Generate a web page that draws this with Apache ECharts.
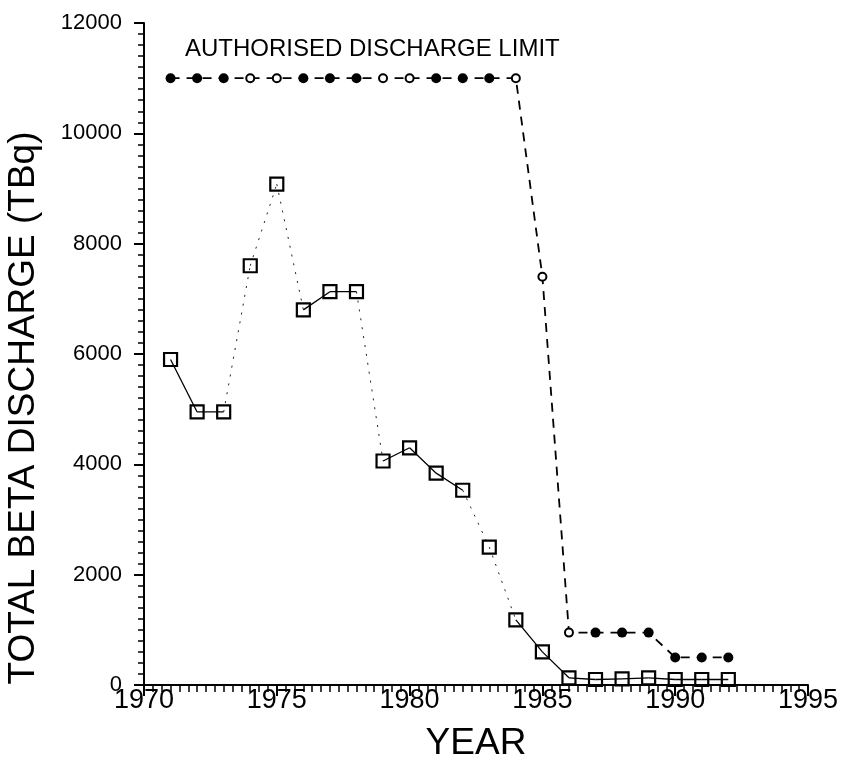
<!DOCTYPE html>
<html>
<head>
<meta charset="utf-8">
<script src="https://cdn.jsdelivr.net/npm/echarts@6/dist/echarts.min.js"></script>
<style>
html,body{margin:0;padding:0;background:#fff;}
#chart{width:841px;height:761px;}
</style>
</head>
<body>
<div id="chart"></div>
<script>
// ---- data ----
const years = [1971,1972,1973,1974,1975,1976,1977,1978,1979,1980,1981,1982,1983,1984,1985,1986,1987,1988,1989,1990,1991,1992];
const totalBeta = [5900,4950,4950,7600,9080,6800,7130,7130,4060,4300,3840,3530,2500,1180,600,130,100,110,130,100,100,100];
const dischargeLimit = [11000,11000,11000,11000,11000,11000,11000,11000,11000,11000,11000,11000,11000,11000,7400,950,950,950,950,500,500,500];
const limitLabel = 'AUTHORISED DISCHARGE LIMIT';
const xAxisTitle = 'YEAR';
const yAxisTitle = 'TOTAL BETA DISCHARGE (TBq)';

// ---- styles (not data) ----
const segmentStyle = ['solid','solid','dotted','dotted','dotted','solid','solid','dotted','solid','solid','solid','dotted','dotted','solid','solid','solid','solid','solid','solid','solid','solid'];
const openLimitYears = [1974,1975,1979,1980,1984,1985,1986];
const FONT = 'Liberation Sans, Arial, sans-serif';

const chart = echarts.init(document.getElementById('chart'), null, {renderer:'canvas'});

const series = [];
for (let i = 0; i < years.length - 1; i++) {
  const dotted = segmentStyle[i] === 'dotted';
  series.push({
    type:'line',
    data:[[years[i], totalBeta[i]], [years[i+1], totalBeta[i+1]]],
    showSymbol:false,
    symbol:'none',
    silent:true,
    z:2,
    lineStyle: dotted ? {color:'#222', width:1, type:[2,7]} : {color:'#000', width:1.3, type:'solid'}
  });
}
series.push({
  type:'line',
  data: years.map((y,i)=>[y,totalBeta[i]]),
  symbol:'rect',
  symbolSize:13,
  showAllSymbol:true,
  lineStyle:{width:0, opacity:0},
  itemStyle:{color:'rgba(0,0,0,0)', borderColor:'#000', borderWidth:2.2},
  z:3
});
series.push({
  type:'line',
  data: years.map((y,i)=>{
    const open = openLimitYears.indexOf(y) >= 0;
    return open
      ? {value:[y, dischargeLimit[i]], symbolSize:8, itemStyle:{color:'#fff', borderColor:'#000', borderWidth:2}}
      : {value:[y, dischargeLimit[i]], symbolSize:10, itemStyle:{color:'#000', borderColor:'#000', borderWidth:0}};
  }),
  symbol:'circle',
  showAllSymbol:true,
  lineStyle:{color:'#000', width:1.8, type:[9,7]},
  z:4
});

const option = {
  animation:false,
  backgroundColor:'#fff',
  title:{
    text: limitLabel,
    left: 180, top: 32,
    textStyle:{fontFamily:FONT, fontSize:24, fontWeight:'normal', color:'#000'}
  },
  graphic:[{
    type:'text',
    x:24, y:408,
    rotation:Math.PI/2,
    style:{text:yAxisTitle, font:'37px ' + FONT, fill:'#000', textAlign:'center', textVerticalAlign:'middle'}
  }],
  grid:{left:144, right:33, top:23, bottom:76, containLabel:false, outerBoundsMode:'none'},
  xAxis:{
    type:'value', min:1970, max:1995, interval:5,
    name: xAxisTitle, nameLocation:'middle', nameGap:40,
    nameTextStyle:{fontFamily:FONT, fontSize:37, color:'#000'},
    axisLine:{show:true, lineStyle:{color:'#000', width:2}},
    axisTick:{show:true, inside:false, length:11, lineStyle:{color:'#000', width:2}},
    minorTick:{show:true, splitNumber:15, length:7, lineStyle:{color:'#000', width:1.5}},
    axisLabel:{color:'#000', fontFamily:FONT, fontSize:27, margin:2, formatter:v=>String(v)},
    splitLine:{show:false}
  },
  yAxis:{
    type:'value', min:0, max:12000, interval:2000,
    axisLine:{show:true, lineStyle:{color:'#000', width:2}},
    axisTick:{show:true, inside:false, length:10, lineStyle:{color:'#000', width:2}},
    minorTick:{show:true, splitNumber:10, length:6, lineStyle:{color:'#000', width:1.5}},
    axisLabel:{color:'#000', fontFamily:FONT, fontSize:22, margin:22, formatter:v=>String(v)},
    splitLine:{show:false}
  },
  series: series
};
chart.setOption(option);
</script>
</body>
</html>
